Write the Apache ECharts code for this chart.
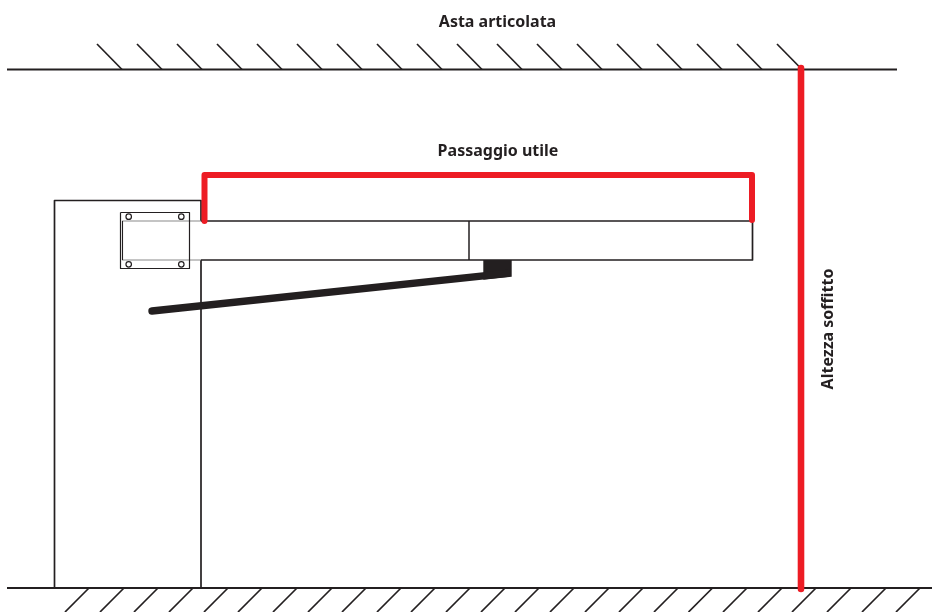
<!DOCTYPE html>
<html>
<head>
<meta charset="utf-8">
<style>html,body{margin:0;padding:0;background:#fff}#c{width:932px;height:612px}</style>
<script src="https://cdn.jsdelivr.net/npm/echarts@6/dist/echarts.min.js"></script>
</head>
<body>
<div id="c"></div>
<script>
var ceilingLine = [[7,69.5],[897,69.5]];
var floorLine = [[7,588],[932,588]];
var ceilingHatchStartX = [97,137,177,217,257,297,337,377,417,457,497,537,577,617,657,697,737,777];
var floorHatchTopX = [89,124,158,193,228,262,297,332,366,401,435,470,505,539,574,609,643,678,712.5,747,782,816,851,886,920];
var pillarOutline = [[201,221],[201,200.5],[54.5,200.5],[54.5,588]];
var pillarRight = [[201,260],[201,588]];
var armTop = [[201,221],[752.5,221],[752.5,260],[201,260]];
var armInsideTop = [[122,221],[201,221]];
var armInsideBottom = [[122,260],[201,260]];
var armJoint = [[469,221],[469,260]];
var plate = [[120.5,212.5],[189.5,212.5],[189.5,268.5],[120.5,268.5],[120.5,212.5]];
var plateInner = [[122.5,221],[122.5,260]];
var plateHoles = [[128.7,216.7],[181.3,216.7],[128.7,264.3],[181.3,264.3]];
var redSpan = [[204.5,221],[204.5,175],[752,175],[752,220]];
var redHeight = [[801,68],[801,589]];
var strut = [[152,311],[507,273.4]];
var strutBlock = [[483.3,260],[511.7,260],[511.7,276.7],[483.3,279.7]];
var labels = [
  {text:'Asta articolata', at:[497.5,22], rotate:0},
  {text:'Passaggio utile', at:[498,151], rotate:0},
  {text:'Altezza soffitto', at:[828,329], rotate:90}
];

var INK = '#231f20', RED = '#ed1c24';
function poly(points, color, width, cap, z){
  return {type:'line', data:points, symbol:'none', silent:true, clip:false, z:z||2,
    lineStyle:{color:color, width:width, cap:cap||'butt', join:'round'}, animation:false};
}
var series = [];
series.push(poly(ceilingLine, INK, 2));
series.push(poly(floorLine, INK, 2));
ceilingHatchStartX.forEach(function(x){ series.push(poly([[x,44],[x+25,69.5]], INK, 1.7)); });
floorHatchTopX.forEach(function(x){ series.push(poly([[x,588],[x-24,612]], INK, 1.7)); });
series.push(poly(pillarOutline, INK, 1.7));
series.push(poly(pillarRight, INK, 1.7));
series.push(poly(armTop, INK, 1.7));
series.push(poly(armInsideTop, '#8a8a8a', 1.1));
series.push(poly(armInsideBottom, '#8a8a8a', 1.1));
series.push(poly(armJoint, INK, 1.5));
series.push(poly(plate, INK, 1.2));
series.push(poly(plateInner, INK, 1.1));
series.push({type:'scatter', data:plateHoles, symbol:'circle', symbolSize:5.5, silent:true, z:4, animation:false,
  itemStyle:{color:'#fff', borderColor:INK, borderWidth:1.2, opacity:1}});
series.push(poly(strut, INK, 7.4, 'round', 3));
series.push({type:'custom', silent:true, z:3, animation:false, data:[0],
  renderItem:function(params, api){
    return {type:'polygon', shape:{points:strutBlock.map(function(p){return api.coord(p);})}, style:{fill:INK}};
  }});
series.push(poly(redSpan, RED, 6, 'round', 5));
series.push(poly(redHeight, RED, 6.6, 'round', 5));
labels.forEach(function(l){
  series.push({type:'scatter', data:[l.at], symbolSize:0, silent:true, z:6, animation:false,
    itemStyle:{opacity:1},
    label:{show:true, position:'inside', formatter:l.text, rotate:l.rotate, color:INK,
      fontFamily:'"Noto Sans"', fontWeight:'bold', fontSize:16, align:'center', verticalAlign:'middle'}});
});

var chart = echarts.init(document.getElementById('c'), null, {renderer:'canvas'});
chart.setOption({
  animation:false,
  backgroundColor:'#fff',
  grid:{left:0,right:0,top:0,bottom:0},
  xAxis:{type:'value',min:0,max:932,show:false},
  yAxis:{type:'value',min:0,max:612,inverse:true,show:false},
  series:series
});
</script>
</body>
</html>
